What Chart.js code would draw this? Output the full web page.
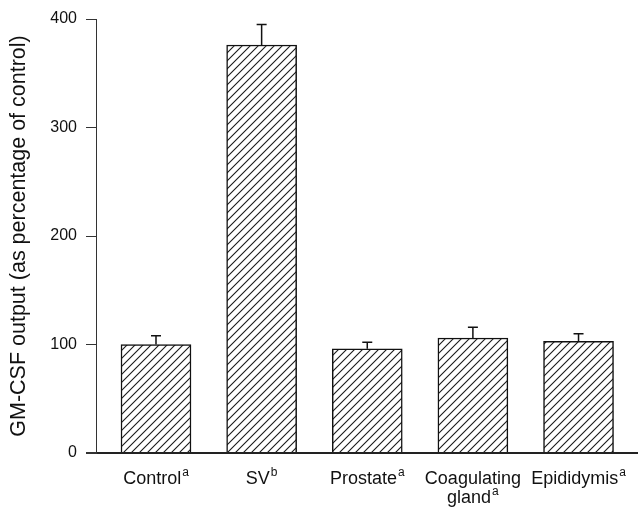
<!DOCTYPE html>
<html>
<head>
<meta charset="utf-8">
<script src="https://cdn.jsdelivr.net/npm/chart.js@4/dist/chart.umd.min.js"></script>
<style>
  html, body { margin: 0; padding: 0; background: #fff; }
  #wrap { width: 640px; height: 512px; }
</style>
</head>
<body>
<div id="wrap"><canvas id="c" width="640" height="512"></canvas></div>
<script>
// ---- data ----
const categoryLines = [['Control'], ['SV'], ['Prostate'], ['Coagulating', 'gland'], ['Epididymis']];
const superscripts = ['a', 'b', 'a', 'a', 'a'];
const values = [100, 376, 96, 106, 103];
const errors = [8, 19, 6, 10, 7];
const yTicks = [0, 100, 200, 300, 400];
const yTitle = 'GM-CSF output (as percentage of control)';

const FONT = '"Liberation Sans", Arial, Helvetica, sans-serif';
const INK = '#111';

// hatch pattern
function makeHatch() {
  const s = 8;
  const p = document.createElement('canvas');
  p.width = s; p.height = s;
  const g = p.getContext('2d');
  g.fillStyle = '#fff';
  g.fillRect(0, 0, s, s);
  g.strokeStyle = '#1a1a1a';
  g.lineWidth = 1.1;
  g.beginPath();
  g.moveTo(0, s); g.lineTo(s, 0);
  g.moveTo(-s / 2, s / 2); g.lineTo(s / 2, -s / 2);
  g.moveTo(s / 2, s * 1.5); g.lineTo(s * 1.5, s / 2);
  g.stroke();
  return g.createPattern(p, 'repeat');
}

const errorBars = {
  id: 'errorBars',
  afterDatasetsDraw(chart) {
    const ctx = chart.ctx;
    const meta = chart.getDatasetMeta(0);
    const ys = chart.scales.y;
    ctx.save();
    ctx.strokeStyle = INK;
    ctx.lineWidth = 1.5;
    meta.data.forEach((el, i) => {
      const x = el.x;
      const yTop = el.y;
      const yErr = ys.getPixelForValue(values[i] + errors[i]);
      ctx.beginPath();
      ctx.moveTo(x, yTop);
      ctx.lineTo(x, yErr);
      ctx.moveTo(x - 5, yErr);
      ctx.lineTo(x + 5, yErr);
      ctx.stroke();
    });
    ctx.restore();
  }
};

const xLabels = {
  id: 'xLabels',
  afterDraw(chart) {
    const ctx = chart.ctx;
    const xs = chart.scales.x;
    const base = chart.chartArea.bottom;
    ctx.save();
    ctx.fillStyle = INK;
    ctx.textBaseline = 'alphabetic';
    ctx.textAlign = 'left';
    categoryLines.forEach((lines, i) => {
      const cx = xs.getPixelForValue(i);
      lines.forEach((txt, j) => {
        const y = base + 31 + j * 19;
        ctx.font = '18px ' + FONT;
        const w = ctx.measureText(txt).width;
        let sw = 0;
        const last = j === lines.length - 1;
        if (last) {
          ctx.font = '12px ' + FONT;
          sw = ctx.measureText(superscripts[i]).width + 1;
        }
        const x0 = cx - (w + sw) / 2;
        ctx.font = '18px ' + FONT;
        ctx.fillText(txt, x0, y);
        if (last) {
          ctx.font = '12px ' + FONT;
          ctx.fillText(superscripts[i], x0 + w + 1, y - 8);
        }
      });
    });
    ctx.restore();
  }
};

const pts = values.map((v, i) => ({ x: i, y: v }));

new Chart(document.getElementById('c'), {
  type: 'bar',
  data: {
    datasets: [{
      data: pts,
      backgroundColor: makeHatch(),
      borderColor: INK,
      borderWidth: 1.5,
      borderSkipped: 'bottom',
      barThickness: 70
    }]
  },
  options: {
    responsive: false,
    animation: false,
    layout: { padding: { left: 0, top: 19, right: 2, bottom: 59 } },
    plugins: {
      legend: { display: false },
      tooltip: { enabled: false }
    },
    scales: {
      x: {
        type: 'linear',
        display: false,
        offset: false,
        min: -0.568,
        max: 4.563
      },
      y: {
        min: 0,
        max: 400,
        afterBuildTicks: s => { s.ticks = yTicks.map(v => ({ value: v })); },
        afterFit: s => { s.width = 96; },
        border: { display: true, color: '#333', width: 1 },
        grid: {
          drawOnChartArea: true,
          drawTicks: true,
          tickLength: 10,
          tickColor: '#333',
          color: c => (c.tick && c.tick.value === 0) ? '#222' : 'rgba(0,0,0,0)',
          lineWidth: c => (c.tick && c.tick.value === 0) ? 2 : 1
        },
        ticks: {
          color: INK,
          padding: 9,
          font: { family: FONT, size: 16 }
        },
        title: {
          display: true,
          text: yTitle,
          color: INK,
          font: { family: FONT, size: 21.5 },
          padding: { top: 6, bottom: 0 }
        }
      }
    }
  },
  plugins: [errorBars, xLabels]
});
</script>
</body>
</html>
